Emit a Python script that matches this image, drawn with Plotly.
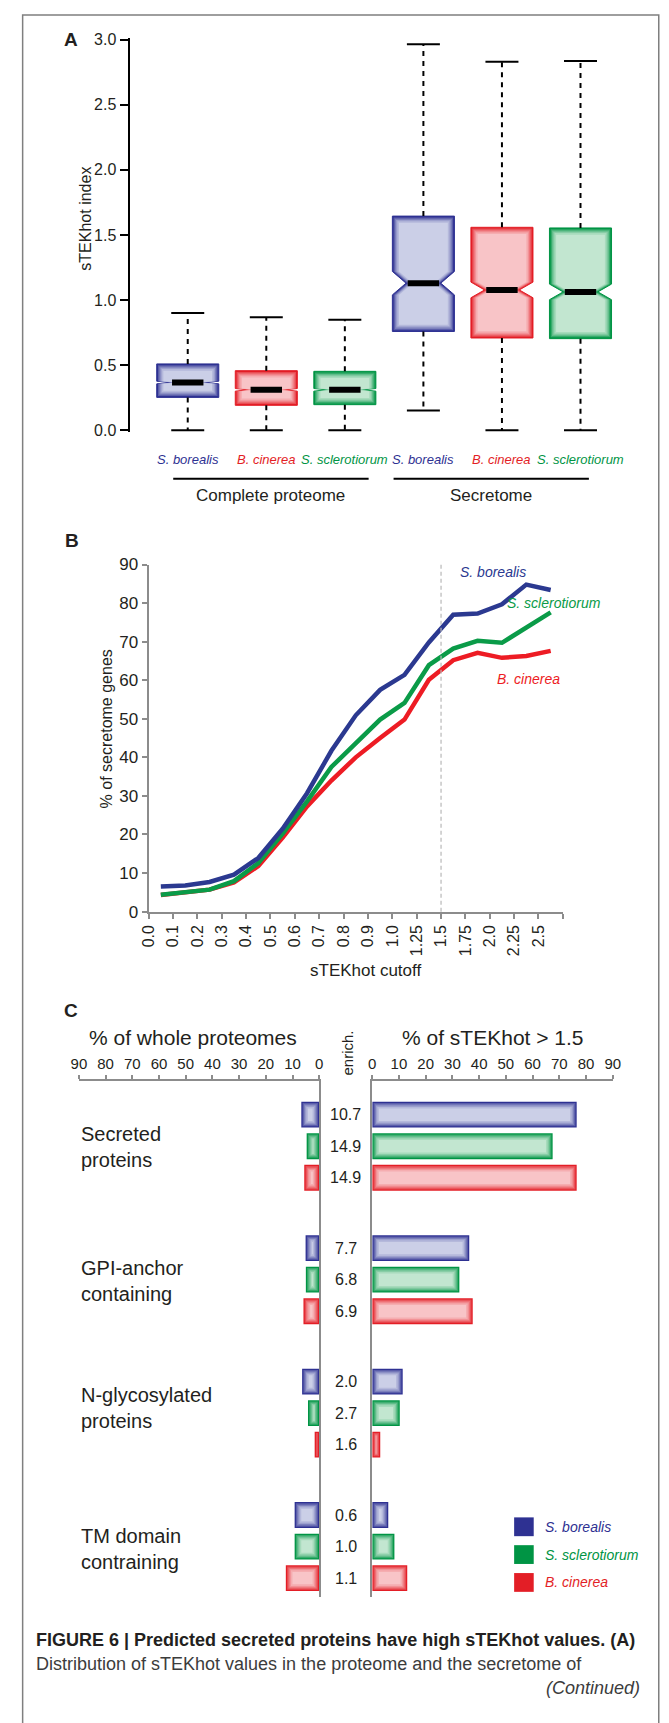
import plotly.graph_objects as go

W, H = 669, 1723


def fx(px):
    return px / W


def fy(py):
    return 1 - py / H


SANS = "Liberation Sans, Arial, sans-serif"
INK = "#231f20"

DARK = {"S. borealis": "#2e3192", "B. cinerea": "#e31e26", "S. sclerotiorum": "#009444"}
LIGHT = {"S. borealis": "#cbcfe7", "B. cinerea": "#f8c4c7", "S. sclerotiorum": "#c2e6d0"}
LINEC = {"S. borealis": "#2b3990", "B. cinerea": "#ed1c24", "S. sclerotiorum": "#0a9b48"}


def mix(c1, c2, t):
    a = [int(c1[k:k + 2], 16) for k in (1, 3, 5)]
    b = [int(c2[k:k + 2], 16) for k in (1, 3, 5)]
    return "#" + "".join(f"{round(x + (y - x) * t):02x}" for x, y in zip(a, b))


# ---------------- Panel A data ----------------
a_species = ["S. borealis", "B. cinerea", "S. sclerotiorum",
             "S. borealis", "B. cinerea", "S. sclerotiorum"]
a_groups = ["Complete proteome", "Secretome"]
a_lower = [0.0, 0.0, 0.0, 0.152, 0.0, 0.0]
a_q1 = [0.253, 0.192, 0.197, 0.759, 0.709, 0.704]
a_median = [0.367, 0.311, 0.311, 1.13, 1.078, 1.063]
a_q3 = [0.51, 0.458, 0.453, 1.645, 1.559, 1.554]
a_upper = [0.90, 0.868, 0.85, 2.964, 2.83, 2.835]
a_notch = [0.01, 0.01, 0.01, 0.09, 0.06, 0.06]
a_yticks = [0.0, 0.5, 1.0, 1.5, 2.0, 2.5, 3.0]

# ---------------- Panel B data ----------------
b_cutoffs = ["0.0", "0.1", "0.2", "0.3", "0.4", "0.5", "0.6", "0.7", "0.8", "0.9",
             "1.0", "1.25", "1.5", "1.75", "2.0", "2.25", "2.5"]
b_borealis = [6.5, 6.8, 7.7, 9.6, 13.9, 21.5, 30.7, 41.7, 50.9, 57.5,
              61.4, 69.8, 77.0, 77.3, 79.7, 84.8, 83.4]
b_sclerotiorum = [4.4, 5.0, 5.7, 7.9, 12.6, 20.2, 28.6, 37.5, 43.5, 49.8,
                  54.1, 63.9, 68.2, 70.2, 69.7, 73.8, 77.6]
b_cinerea = [4.3, 4.9, 5.7, 7.6, 11.8, 19.2, 27.3, 34.0, 40.0, 45.0,
             49.8, 60.1, 65.2, 67.1, 65.8, 66.3, 67.6]
b_marker_cutoff = "1.5"

# ---------------- Panel C data ----------------
c_categories = ["Secreted<br>proteins", "GPI-anchor<br>containing",
                "N-glycosylated<br>proteins", "TM domain<br>contraining"]
c_species = ["S. borealis", "S. sclerotiorum", "B. cinerea"]
c_whole_borealis = [6.7, 5.1, 6.4, 9.2]
c_whole_sclerotiorum = [4.7, 5.0, 4.2, 9.2]
c_whole_cinerea = [5.6, 5.9, 1.7, 12.5]
c_hot_borealis = [76.5, 36.3, 11.4, 6.0]
c_hot_sclerotiorum = [67.5, 32.6, 10.3, 8.3]
c_hot_cinerea = [76.5, 37.6, 3.0, 13.1]
c_enrich_borealis = ["10.7", "7.7", "2.0", "0.6"]
c_enrich_sclerotiorum = ["14.9", "6.8", "2.7", "1.0"]
c_enrich_cinerea = ["14.9", "6.9", "1.6", "1.1"]
c_ticks = [0, 10, 20, 30, 40, 50, 60, 70, 80, 90]

fig = go.Figure()

# soft "glow" fill: (inset px, mix fraction dark->light)
GLOW = [(0.0, 0.0), (1.3, 0.28), (2.6, 0.5), (3.9, 0.7), (5.2, 0.86), (6.8, 1.0)]

# ======== Panel A: notched box plots ========
A_BOXW = 0.79
A_PXX = 80.6     # px per x unit
A_PXY = 131.67   # px per y unit
A_NOTCHW = 0.22
for i, sp in enumerate(a_species):
    p = i
    fig.add_trace(go.Scatter(
        x=[p, p, None, p, p], y=[a_q3[i], a_upper[i], None, a_q1[i], a_lower[i]],
        mode="lines", line=dict(color="black", width=2, dash="5px,5px"),
        xaxis="x", yaxis="y", hoverinfo="skip", showlegend=False))
    fig.add_trace(go.Scatter(
        x=[p - 0.21, p + 0.21, None, p - 0.21, p + 0.21],
        y=[a_upper[i], a_upper[i], None, a_lower[i], a_lower[i]],
        mode="lines", line=dict(color="black", width=2),
        xaxis="x", yaxis="y", hoverinfo="skip", showlegend=False))
    for inset, t in GLOW:
        col = mix(DARK[sp], LIGHT[sp], t)
        ix = inset / A_PXX
        iy = inset / A_PXY
        w = A_BOXW - 2 * ix
        lo = a_q1[i] + iy
        hi = a_q3[i] - iy
        fig.add_trace(go.Box(
            x=[p], q1=[lo], median=[a_median[i]], q3=[hi],
            lowerfence=[lo], upperfence=[hi],
            notched=True, notchspan=[a_notch[i]],
            notchwidth=min(0.5, A_NOTCHW * A_BOXW / w),
            width=w, whiskerwidth=0, fillcolor=col,
            line=dict(color=col, width=1 if inset == 0 else 0), boxpoints=False,
            xaxis="x", yaxis="y", hoverinfo="skip", showlegend=False))
    fig.add_trace(go.Scatter(
        x=[p - 0.2, p + 0.2], y=[a_median[i], a_median[i]],
        mode="lines", line=dict(color="black", width=6),
        xaxis="x", yaxis="y", hoverinfo="skip", showlegend=False))

# ======== Panel B: lines ========
b_x = [k + 0.5 for k in range(len(b_cutoffs))]
for name, vals in [("B. cinerea", b_cinerea), ("S. sclerotiorum", b_sclerotiorum),
                   ("S. borealis", b_borealis)]:
    fig.add_trace(go.Scatter(
        x=b_x, y=vals, mode="lines", name=name,
        line=dict(color=LINEC[name], width=4.5),
        xaxis="x2", yaxis="y2", hoverinfo="skip", showlegend=False))

# ======== Panel C: mirrored bars ========
C_UNIT = 31.9
C_GROUP = 4.23
C_PXX = 2.74
C_BARW = 0.82
c_whole = {"S. borealis": c_whole_borealis, "S. sclerotiorum": c_whole_sclerotiorum,
           "B. cinerea": c_whole_cinerea}
c_hot = {"S. borealis": c_hot_borealis, "S. sclerotiorum": c_hot_sclerotiorum,
         "B. cinerea": c_hot_cinerea}
c_enrich = {"S. borealis": c_enrich_borealis, "S. sclerotiorum": c_enrich_sclerotiorum,
            "B. cinerea": c_enrich_cinerea}


def c_pos(g, s):
    return g * C_GROUP + s


for s, sp in enumerate(c_species):
    ys = [c_pos(g, s) for g in range(len(c_categories))]
    for xa, vals in [("x3", c_whole[sp]), ("x4", c_hot[sp])]:
        ya = "y3" if xa == "x3" else "y4"
        for inset, t in GLOW:
            ins = inset / C_PXX
            fig.add_trace(go.Bar(
                x=[max(v - 2 * ins, 0) for v in vals], base=[ins] * len(vals), y=ys,
                orientation="h", width=C_BARW - 2 * inset / C_UNIT,
                marker=dict(color=mix(DARK[sp], LIGHT[sp], t), line=dict(width=0)),
                xaxis=xa, yaxis=ya, hoverinfo="skip", showlegend=False))

ann = []
shapes = []


def text(x, y, t, size, color=INK, family=SANS, xanchor="center", yanchor="middle",
         xref="paper", yref="paper", angle=0, style="normal", weight="normal", align="center"):
    ann.append(dict(x=x, y=y, text=t, xref=xref, yref=yref, showarrow=False,
                    xanchor=xanchor, yanchor=yanchor, textangle=angle, align=align,
                    font=dict(size=size, color=color, family=family, style=style,
                              weight=weight)))


# --- Panel A annotations ---
text(fx(54), fy(31), "A", 19, weight="bold", xanchor="left")
text(fx(79), fy(212), "sTEKhot index", 16, angle=-90)
for i, sp in enumerate(a_species):
    text(i, fy(456), sp, 13, color=DARK[sp], style="italic", xref="x")
group_lines = [(168.5, 369.0), (394.6, 595.0)]
for (x0, x1), g in zip(group_lines, a_groups):
    shapes.append(dict(type="line", xref="paper", yref="paper", x0=fx(x0), x1=fx(x1),
                       y0=fy(475), y1=fy(475), line=dict(color="black", width=2)))
    text(fx((x0 + x1) / 2), fy(492), g, 17)

# --- Panel B annotations ---
text(fx(55), fy(537), "B", 19, weight="bold", xanchor="left")
text(fx(101), fy(728), "% of secretome genes", 16, angle=-90)
text(fx(366), fy(972), "sTEKhot cutoff", 17)
text(fx(497), fy(569), "S. borealis", 14, color=LINEC["S. borealis"], style="italic")
text(fx(559), fy(601), "S. sclerotiorum", 14, color=LINEC["S. sclerotiorum"], style="italic")
text(fx(533), fy(677), "B. cinerea", 14, color=LINEC["B. cinerea"], style="italic")
k_mark = b_cutoffs.index(b_marker_cutoff)
shapes.append(dict(type="line", xref="x2", yref="y2 domain", x0=k_mark, x1=k_mark, y0=0, y1=1,
                   line=dict(color="#b8b8b8", width=1.2, dash="4px,3px")))

# --- Panel C annotations ---
text(fx(54), fy(1013), "C", 19, weight="bold", xanchor="left")
text(fx(189), fy(1040), "% of whole proteomes", 21)
text(fx(497), fy(1040), "% of sTEKhot > 1.5", 21)
text(fx(347), fy(1056), "enrich.", 15, angle=-90)
cat_label_y = [1151, 1286, 1415, 1557]
for cat, py in zip(c_categories, cat_label_y):
    text(fx(71.7), fy(py), cat, 20, xanchor="left", align="left")
for s, sp in enumerate(c_species):
    for g in range(len(c_categories)):
        text(fx(345.6), c_pos(g, s), c_enrich[sp][g], 16, yref="y3")
leg_y = [1534.7, 1562.8, 1591.0]
for sp, py in zip(c_species, leg_y):
    shapes.append(dict(type="rect", xref="paper", yref="paper", x0=fx(518.3), x1=fx(538.4),
                       y0=fy(py + 9.5), y1=fy(py - 9.5), fillcolor=DARK[sp],
                       line=dict(color=DARK[sp], width=0)))
    text(fx(548), fy(py), sp, 14, color=DARK[sp], style="italic", xanchor="left")

# --- Caption ---
text(fx(26), fy(1649), "FIGURE 6 | Predicted secreted proteins have high sTEKhot values. (A)",
     18, weight="bold", xanchor="left")
text(fx(26), fy(1673), "Distribution of sTEKhot values in the proteome and the secretome of",
     18, color="#3c3c3c", xanchor="left")
text(fx(650), fy(1698), "(Continued)", 18, color="#3c3c3c", style="italic", xanchor="right")

shapes.append(dict(type="rect", xref="paper", yref="paper", x0=fx(14), x1=fx(666.7),
                   y0=fy(1760), y1=fy(6), line=dict(color="#7f7f7f", width=1.5)))

GRAY = "#8c8c8c"
fig.update_layout(
    width=W, height=H, margin=dict(l=0, r=0, t=0, b=0),
    paper_bgcolor="white", plot_bgcolor="rgba(0,0,0,0)",
    showlegend=False, barmode="overlay", boxmode="overlay", hovermode=False,
    font=dict(family=SANS, color=INK),
    annotations=ann, shapes=shapes,
    xaxis=dict(domain=[fx(123.7), fx(640)], range=[(123.7 - 183.4) / A_PXX, (640 - 183.4) / A_PXX],
               visible=False, anchor="y"),
    yaxis=dict(domain=[fy(428), fy(29)], range=[-0.015, 3.015], anchor="x",
               showline=True, linecolor="black", linewidth=2, ticks="outside", ticklen=8,
               tickwidth=2, tickcolor="black", tickvals=a_yticks,
               ticktext=[f"{v:.1f}" for v in a_yticks], tickfont=dict(size=16),
               showgrid=False, zeroline=False),
    xaxis2=dict(domain=[fx(143.3), fx(568.3)], range=[0, len(b_cutoffs)], anchor="y2",
                showline=True, linecolor=GRAY, linewidth=2, ticks="outside", ticklen=5,
                tickwidth=2, tickcolor=GRAY, tickvals=list(range(len(b_cutoffs) + 1)),
                ticktext=b_cutoffs + [""], tickangle=-90, tickfont=dict(size=16),
                showgrid=False, zeroline=False),
    yaxis2=dict(domain=[fy(912.7), fy(561.7)], range=[0, 90], anchor="x2",
                showline=True, linecolor=GRAY, linewidth=2, ticks="outside", ticklen=5,
                tickwidth=2, tickcolor=GRAY, tickvals=list(range(0, 91, 10)),
                tickfont=dict(size=17), showgrid=False, zeroline=False),
    xaxis3=dict(domain=[fx(71.7), fx(318.3)], range=[90, 0], side="top", anchor="y3",
                showline=True, linecolor=GRAY, linewidth=2, ticks="outside", ticklen=4,
                tickwidth=1.5, tickcolor=GRAY, tickvals=c_ticks, tickfont=dict(size=15),
                showgrid=False, zeroline=False),
    xaxis4=dict(domain=[fx(372.7), fx(619.5)], range=[0, 90], side="top", anchor="y4",
                showline=True, linecolor=GRAY, linewidth=2, ticks="outside", ticklen=4,
                tickwidth=1.5, tickcolor=GRAY, tickvals=c_ticks, tickfont=dict(size=15),
                showgrid=False, zeroline=False),
    yaxis3=dict(domain=[fy(1606), fy(1084)], range=[(1606 - 1118) / C_UNIT, (1084 - 1118) / C_UNIT],
                anchor="x3", side="right", showline=True, linecolor=GRAY, linewidth=2,
                showticklabels=False, ticks="", showgrid=False, zeroline=False),
    yaxis4=dict(domain=[fy(1606), fy(1084)], range=[(1606 - 1118) / C_UNIT, (1084 - 1118) / C_UNIT],
                anchor="x4", side="left", showline=True, linecolor=GRAY, linewidth=2,
                showticklabels=False, ticks="", showgrid=False, zeroline=False),
)

fig.write_html("out.html")
